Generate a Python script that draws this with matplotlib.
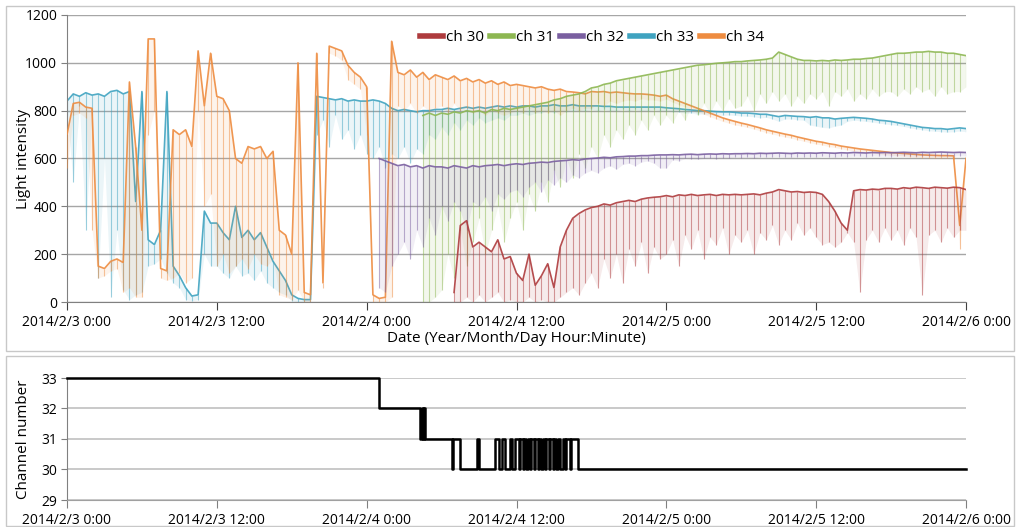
import numpy as np
import matplotlib
matplotlib.use("Agg")
import matplotlib.pyplot as plt
from matplotlib.lines import Line2D
from matplotlib.patches import Rectangle

N = None
# time axis in hours from 2014/2/3 0:00, 30-minute samples
hours = np.arange(0, 72.01, 0.5)

xtick_hours = [0, 12, 24, 36, 48, 60, 72]
xtick_labels = ["2014/2/3 0:00", "2014/2/3 12:00", "2014/2/4 0:00", "2014/2/4 12:00",
                "2014/2/5 0:00", "2014/2/5 12:00", "2014/2/6 0:00"]
series_names = ["ch 30", "ch 31", "ch 32", "ch 33", "ch 34"]
series_colors = ["#AE3B3D", "#8DB752", "#7A5FA0", "#3FA3C0", "#EE8C40"]

# upper level / lower (dip) level of each channel, per 30-min sample
ch33_up = [840, 870, 860, 875, 865, 870, 860, 880, 885, 870, 880, 420,
           880, 260, 240, 300, 880, 150, 110, 60, 25, 30, 380, 330,
           330, 290, 260, 400, 270, 300, 260, 290, 230, 170, 130, 90,
           30, 15, 10, 10, 860, 855, 850, 845, 850, 840, 845, 840,
           840, 845, 840, 830, 810, 800, 805, 800, 795, 800, 800, 805,
           805, 810, 805, 810, 815, 810, 815, 810, 815, 820, 815, 820,
           815, 820, 820, 815, 820, 820, 825, 820, 820, 825, 820, 820,
           820, 820, 818, 818, 815, 815, 815, 815, 815, 815, 815, 815,
           812, 810, 808, 805, 803, 800, 800, 798, 796, 795, 795, 793,
           790, 790, 788, 785, 785, 780, 775, 780, 778, 776, 775, 772,
           775, 770, 770, 765, 768, 770, 772, 770, 768, 765, 760, 758,
           755, 750, 745, 740, 735, 730, 728, 725, 725, 722, 725, 728,
           725]
ch33_lo = [780, 500, 820, 300, 780, 100, 600, 20, 300, 50, 10, 30,
           40, 150, 160, 180, 120, 80, 60, 10, 5, 10, 200, 150,
           150, 120, 100, 150, 110, 120, 90, 130, 80, 60, 40, 30,
           5, 0, 0, 0, 700, 760, 650, 780, 680, 720, 640, 700,
           620, 600, 650, 560, 620, 600, 650, 580, 640, 620, 700, 680,
           730, 700, 750, 720, 760, 740, 770, 750, 760, 770, 760, 780,
           780, 790, 780, 790, 790, 800, 790, 800, 795, 800, 800, 800,
           805, 800, 805, 800, 800, 805, 800, 805, 800, 800, 805, 800,
           800, 795, 795, 790, 790, 785, 786, 784, 782, 780, 782, 780,
           778, 776, 775, 770, 772, 765, 755, 765, 765, 762, 760, 740,
           735, 730, 728, 735, 740, 755, 760, 758, 755, 752, 748, 745,
           742, 738, 734, 728, 724, 720, 716, 714, 712, 710, 712, 715,
           712]

ch34_up = [700, 830, 835, 815, 810, 150, 140, 170, 180, 165, 920, 650,
           300, 1100, 1100, 140, 130, 720, 700, 720, 650, 1050, 820, 1040,
           860, 850, 800, 600, 580, 650, 640, 650, 600, 630, 300, 280,
           200, 1000, 40, 30, 1040, 80, 1070, 1060, 1050, 990, 960, 940,
           900, 30, 15, 20, 1090, 960, 950, 970, 940, 960, 930, 950,
           940, 930, 945, 925, 935, 920, 930, 915, 925, 910, 920, 905,
           910, 905, 900, 895, 900, 890, 885, 890, 880, 878, 875, 870,
           880, 878, 880, 875, 878, 875, 872, 870, 870, 868, 865, 860,
           865, 850, 840, 830, 820, 810, 800, 790, 780, 770, 762, 755,
           748, 742, 735, 728, 720, 714, 708, 702, 697, 690, 684, 678,
           672, 668, 662, 658, 652, 648, 644, 640, 637, 634, 631, 628,
           625, 623, 621, 619, 617, 615, 614, 613, 612, 612, 611, 320,
           600]
ch34_lo = [560, 780, 790, 770, 300, 100, 110, 130, 140, 40, 60, 20,
           20, 700, 800, 100, 90, 100, 120, 80, 100, 800, 400, 450,
           150, 200, 120, 150, 180, 140, 200, 160, 150, 180, 30, 20,
           10, 50, 0, 0, 990, 60, 1040, 1030, 1010, 930, 910, 890,
           700, 0, 0, 0, 20, 820, 800, 830, 790, 820, 800, 810,
           820, 790, 830, 800, 810, 790, 800, 780, 800, 790, 780, 790,
           800, 790, 810, 790, 800, 790, 800, 780, 800, 810, 800, 810,
           810, 830, 820, 840, 830, 840, 845, 840, 850, 845, 845, 840,
           848, 835, 825, 815, 805, 795, 785, 775, 765, 755, 748, 740,
           736, 730, 723, 716, 708, 702, 696, 690, 685, 678, 672, 666,
           660, 656, 650, 646, 640, 636, 632, 628, 625, 622, 619, 616,
           613, 611, 609, 607, 605, 603, 602, 601, 600, 600, 599, 220,
           590]

ch32_up = [N] * 48 + [
           N, N, 600, 590, 580, 570, 575, 565, 570, 560, 570, 565,
           565, 560, 570, 565, 560, 570, 565, 570, 572, 575, 570, 575,
           578, 575, 580, 582, 585, 583, 588, 590, 592, 595, 593, 598,
           600, 602, 605, 603, 607, 608, 610, 610, 612, 612, 614, 615,
           615, 616, 615, 617, 618, 616, 618, 619, 618, 620, 619, 620,
           620, 621, 620, 622, 621, 622, 623, 622, 621, 623, 622, 623,
           622, 624, 623, 622, 624, 623, 625, 624, 623, 625, 624, 625,
           624, 625, 626, 625, 624, 626, 625, 626, 627, 626, 625, 626,
           625]
ch32_lo = [N] * 48 + [
           N, N, 60, 40, 150, 200, 250, 180, 300, 230, 350, 280,
           400, 340, 420, 380, 300, 420, 400, 440, 380, 450, 430, 460,
           470, 440, 480, 500, 460, 510, 490, 520, 500, 530, 520, 540,
           550, 540, 560, 570, 555, 575, 580, 570, 585, 590, 580, 560,
           560, 595, 590, 600, 598, 596, 600, 602, 598, 604, 600, 606,
           604, 606, 600, 608, 606, 607, 608, 606, 605, 608, 607, 608,
           606, 609, 608, 606, 609, 608, 610, 609, 607, 610, 609, 610,
           608, 610, 611, 610, 609, 611, 610, 611, 612, 611, 610, 611,
           610]

ch31_up = [N] * 57 + [
           780, 790, 780,
           790, 785, 795, 790, 800, 795, 800, 790, 805, 800, 810, 805,
           810, 815, 820, 825, 830, 835, 845, 850, 860, 865, 870, 880,
           895, 900, 910, 915, 925, 930, 935, 940, 945, 950, 955, 960,
           965, 970, 975, 980, 985, 990, 992, 995, 998, 1000, 1002, 1005,
           1005, 1008, 1010, 1012, 1015, 1020, 1045, 1035, 1025, 1015, 1010, 1010,
           1008, 1010, 1008, 1012, 1010, 1012, 1015, 1015, 1018, 1020, 1025, 1030,
           1035, 1040, 1040, 1042, 1045, 1045, 1048, 1045, 1045, 1040, 1040, 1035,
           1030]
ch31_lo = [N] * 57 + [
           0, 0, 20,
           50, 200, 100, 300, 150, 250, 350, 200, 300, 400, 250, 350,
           420, 300, 450, 380, 500, 420, 550, 480, 600, 520, 620, 560,
           650, 600, 700, 650, 720, 680, 740, 700, 760, 720, 780, 740,
           780, 750, 800, 760, 820, 780, 830, 790, 840, 800, 850, 810,
           820, 860, 800, 870, 830, 880, 840, 870, 820, 860, 830, 870,
           850, 880, 820, 880, 860, 890, 840, 870, 850, 890, 860, 880,
           880, 860, 890, 870, 900, 880, 890, 860, 900, 870, 880, 880,
           900]

ch30_up = [N] * 62 + [
           40, 320, 340, 230, 250, 230, 210, 260, 180, 190,
           120, 90, 200, 70, 110, 160, 60, 230, 300, 350, 370, 385,
           395, 400, 410, 405, 415, 420, 425, 420, 430, 435, 438, 440,
           445, 440, 448, 445, 450, 445, 448, 450, 445, 450, 448, 450,
           448, 450, 452, 448, 455, 460, 470, 465, 460, 462, 458, 460,
           458, 450, 420, 380, 330, 300, 465, 470, 468, 472, 470, 475,
           475, 472, 478, 475, 480, 478, 475, 480, 478, 476, 480, 478,
           470]
ch30_lo = [N] * 62 + [
           0, 0, 20, 0, 30, 0, 20, 40, 0, 10,
           0, 0, 20, 0, 10, 0, 0, 20, 40, 60, 30, 80,
           120, 60, 180, 100, 200, 80, 220, 150, 250, 120, 230, 180,
           200, 260, 150, 280, 220, 300, 180, 270, 240, 310, 200, 280,
           250, 300, 200, 290, 260, 320, 240, 300, 260, 330, 280, 310,
           270, 240, 250, 230, 250, 290, 250, 40, 260, 300, 250, 310,
           260, 300, 240, 310, 270, 30, 280, 300, 250, 310, 270, 300,
           300]

# channel in use (step changes)
chan_hours = [0, 25.0, 28.3, 28.4, 28.5, 28.6, 28.7, 30.8, 30.9, 31.5, 32.8, 33.0,
              34.3, 34.6, 34.8, 35.1, 35.5, 35.6, 35.9, 36.2, 36.3, 36.5, 36.6, 36.8,
              36.9, 37.1, 37.2, 37.4, 37.5, 37.7, 37.8, 38.0, 38.1, 38.3, 38.4, 38.6,
              38.7, 38.9, 39.0, 39.2, 39.3, 39.5, 39.7, 39.9, 40.0, 40.3, 40.4, 40.9, 72]
chan_vals = [33, 32, 31, 32, 31, 32, 31, 30, 31, 30, 31, 30,
             31, 30, 31, 30, 31, 30, 31, 30, 31, 30, 31, 30,
             31, 30, 31, 30, 31, 30, 31, 30, 31, 30, 31, 30,
             31, 30, 31, 30, 31, 30, 31, 30, 31, 30, 31, 30, 30]

plt.rcParams['font.family'] = ['Open Sans', 'DejaVu Sans']
W, H = 1019, 527
fig = plt.figure(figsize=(W / 100, H / 100), dpi=100)
fig.patch.set_facecolor("white")

def fx(px):
    return px / W

def fy(py):
    return 1 - py / H

# panel borders
fig.patches.append(Rectangle((fx(6), fy(351)), fx(1008), 345 / H, transform=fig.transFigure,
                             fill=False, edgecolor="#C8C8C8", lw=1))
fig.patches.append(Rectangle((fx(6), fy(526)), fx(1008), 170 / H, transform=fig.transFigure,
                             fill=False, edgecolor="#C8C8C8", lw=1))

ax = fig.add_axes([fx(67), fy(302), 899 / W, 287 / H])
ax2 = fig.add_axes([fx(67), fy(500), 899 / W, 122 / H])

grid_c = "#A6A6A6"
data = {"ch 30": (ch30_up, ch30_lo), "ch 31": (ch31_up, ch31_lo), "ch 32": (ch32_up, ch32_lo),
        "ch 33": (ch33_up, ch33_lo), "ch 34": (ch34_up, ch34_lo)}
cmap = dict(zip(series_names, series_colors))
order = ["ch 33", "ch 34", "ch 31", "ch 32", "ch 30"]
for k, name in enumerate(order):
    up = np.array(data[name][0], dtype=float)
    lo = np.array(data[name][1], dtype=float)
    c = cmap[name]
    z = 2 + k
    ax.fill_between(hours, lo, up, color=c, alpha=0.10, lw=0, zorder=z)
    ok = ~np.isnan(up)
    ax.vlines(hours[ok], lo[ok], up[ok], color=c, lw=0.8, alpha=0.5, zorder=z)
    ax.plot(hours, up, color=c, lw=1.2, alpha=0.9, zorder=z)

ax.set_xlim(0, 72)
ax.set_ylim(0, 1200)
ax.set_yticks(range(0, 1201, 200))
ax.set_xticks(xtick_hours)
ax.set_xticklabels(xtick_labels)
ax.grid(axis="y", color=grid_c, lw=1)
ax.set_axisbelow(True)
for s in ["top", "right"]:
    ax.spines[s].set_visible(False)
ax.spines["left"].set_color("#808080")
ax.spines["bottom"].set_color("#808080")
ax.tick_params(axis="x", direction="out", length=6, color="#404040", labelsize=10, pad=3)
ax.tick_params(axis="y", direction="out", length=4, color="#808080", labelsize=10, pad=3)
ax.set_ylabel("Light intensity", fontsize=11)
ax.yaxis.set_label_coords(-0.040, 0.5)
ax.set_xlabel("Date (Year/Month/Day Hour:Minute)", fontsize=11, labelpad=1)

handles = [Line2D([], [], color=c, lw=4) for c in series_colors]
ax.legend(handles, series_names, loc="center", bbox_to_anchor=(0.584, 0.92), ncol=5,
          frameon=False, fontsize=11, handlelength=1.5, handletextpad=0.2,
          columnspacing=0.4)

ax2.step(chan_hours, chan_vals, where="post", color="black", lw=1.8, zorder=3, clip_on=False)
ax2.set_xlim(0, 72)
ax2.set_ylim(29, 33)
ax2.set_yticks([29, 30, 31, 32, 33])
ax2.set_xticks(xtick_hours)
ax2.set_xticklabels(xtick_labels)
ax2.grid(axis="y", color="#C0C0C0", lw=1.2)
ax2.set_axisbelow(True)
for s in ["top", "right"]:
    ax2.spines[s].set_visible(False)
ax2.spines["left"].set_color("#808080")
ax2.spines["bottom"].set_color("#A0A0A0")
ax2.tick_params(axis="x", direction="out", length=6, color="#808080", labelsize=10, pad=3)
ax2.tick_params(axis="y", direction="out", length=4, color="#808080", labelsize=10, pad=3)
ax2.set_ylabel("Channel number", fontsize=11)
ax2.yaxis.set_label_coords(-0.040, 0.5)

fig.savefig("out.png", dpi=100, facecolor="white")
